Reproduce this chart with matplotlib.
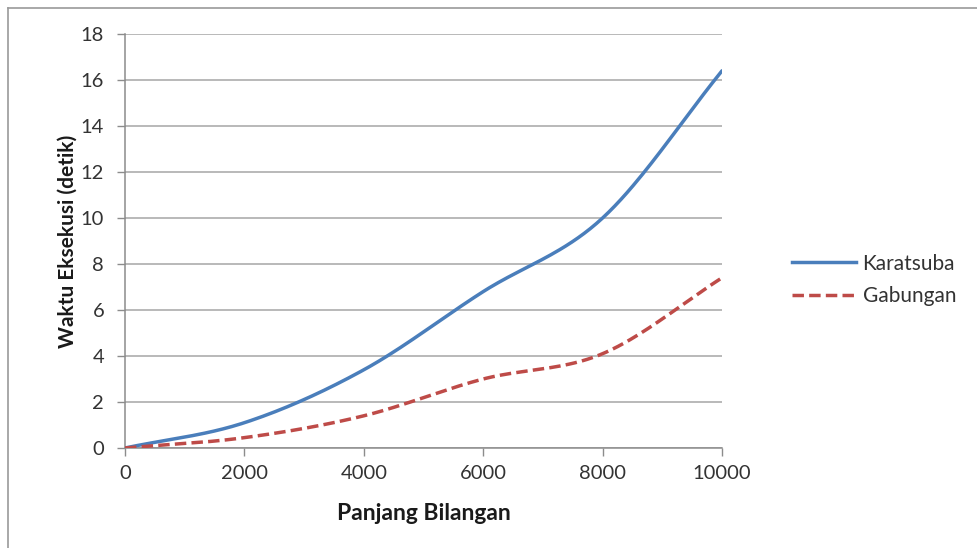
import numpy as np
import matplotlib
matplotlib.use("Agg")
import matplotlib.pyplot as plt
from matplotlib.lines import Line2D

# Data: execution time (seconds) against number length
panjang = [0, 2000, 4000, 6000, 8000, 10000]
karatsuba = [0, 1.1, 3.4, 6.8, 10.0, 16.4]
gabungan = [0, 0.45, 1.4, 3.0, 4.1, 7.4]
y_ticks = [0, 2, 4, 6, 8, 10, 12, 14, 16, 18]
x_ticks = [0, 2000, 4000, 6000, 8000, 10000]


def smooth(x, y, steps=40):
    # Catmull-Rom curve through the points, like a spreadsheet "smoothed line"
    x = np.asarray(x, float)
    y = np.asarray(y, float)
    px = np.concatenate([[2 * x[0] - x[1]], x, [2 * x[-1] - x[-2]]])
    py = np.concatenate([[2 * y[0] - y[1]], y, [2 * y[-1] - y[-2]]])
    t = np.linspace(0, 1, steps)[:-1]
    xs, ys = [], []
    for i in range(1, len(px) - 2):
        for p, out in ((px, xs), (py, ys)):
            p0, p1, p2, p3 = p[i - 1], p[i], p[i + 1], p[i + 2]
            out.extend(0.5 * (2 * p1 + (-p0 + p2) * t
                              + (2 * p0 - 5 * p1 + 4 * p2 - p3) * t ** 2
                              + (-p0 + 3 * p1 - 3 * p2 + p3) * t ** 3))
    xs.append(x[-1])
    ys.append(y[-1])
    return np.array(xs), np.array(ys)


plt.rcParams['font.family'] = ['Lato', 'DejaVu Sans']

W, H = 978, 548
fig = plt.figure(figsize=(W / 100, H / 100), dpi=100)
ax = fig.add_axes([125 / W, 1 - 448 / H, (722 - 125) / W, (448 - 34) / H])

blue = '#4a7ebb'
red = '#be4b48'
dash = (3.3, 1.5)

kx, ky = smooth(panjang, karatsuba)
gx, gy = smooth(panjang, gabungan)
ax.plot(kx, ky, color=blue, lw=2.5, solid_capstyle='round', zorder=3)
ax.plot(gx, gy, color=red, lw=2.5, dashes=dash, zorder=3)

ax.set_xlim(0, 10000)
ax.set_ylim(0, 18)
ax.set_xticks(x_ticks)
ax.set_yticks(y_ticks)
ax.grid(axis='y', color='#a6a6a6', lw=1.1)
ax.set_axisbelow(True)

for s in ('top', 'right'):
    ax.spines[s].set_visible(False)
for s in ('left', 'bottom'):
    ax.spines[s].set_color('#8c8c8c')
    ax.spines[s].set_linewidth(1.1)

ax.tick_params(axis='both', colors='#8c8c8c', length=6, width=1,
               labelsize=14.5, labelcolor='#333333')
ax.tick_params(axis='x', pad=6)
ax.tick_params(axis='y', pad=9)

ax.set_xlabel('Panjang Bilangan', fontsize=16.5, fontweight='bold',
              color='#1a1a1a', labelpad=15)
ax.set_ylabel('Waktu Eksekusi (detik)', fontsize=15, fontweight='bold',
              color='#1a1a1a', labelpad=2)

handles = [Line2D([], [], color=blue, lw=2.5),
           Line2D([], [], color=red, lw=2.5, dashes=dash)]
fig.legend(handles, ['Karatsuba', 'Gabungan'], loc='center left',
           bbox_to_anchor=(773 / W, 1 - 280 / H), frameon=False,
           fontsize=15, handlelength=3.1, handletextpad=0.3,
           labelspacing=0.62, labelcolor='#333333')

# thin frame on the top and left edges of the chart
fig.add_artist(Line2D([8 / W, 1], [1 - 8 / H, 1 - 8 / H], color='#9a9a9a', lw=1.2))
fig.add_artist(Line2D([8 / W, 8 / W], [0, 1 - 8 / H], color='#9a9a9a', lw=1.2))

fig.savefig('out.png', dpi=100)
